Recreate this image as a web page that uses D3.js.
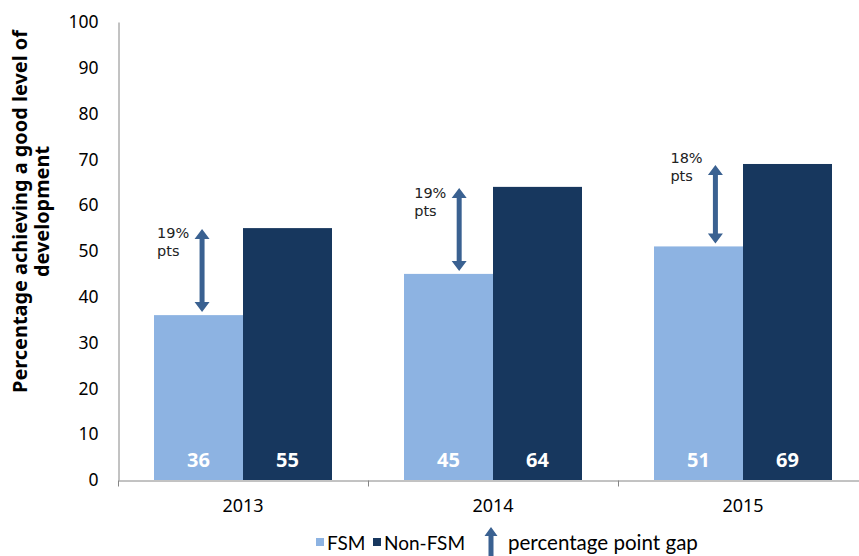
<!DOCTYPE html>
<html>
<head>
<meta charset="utf-8">
<script src="https://cdn.jsdelivr.net/npm/d3@7"></script>
<style>
  body { margin: 0; background: #fff; }
  svg { display: block; font-family: "Noto Sans", "DejaVu Sans", sans-serif; }
</style>
</head>
<body>
<svg width="859" height="556"></svg>
<script>
const years = ['2013', '2014', '2015']
const seriesNames = ['FSM', 'Non-FSM']
const fsmValues = [36, 45, 51]
const nonFsmValues = [55, 64, 69]
const gapLabels = ['19%', '19%', '18%']
const gapArrowShift = [0.54, 0.62, 0.69]   // where the arrow sits across the FSM bar
const gapLabelLevel = [52.8, 61.5, 69.3]   // value at which the "xx%" baseline sits
const yTicks = [0, 10, 20, 30, 40, 50, 60, 70, 80, 90, 100]

const colours = { 'FSM': '#8db3e2', 'Non-FSM': '#17375e' }
const arrowColour = '#3a6191'
const axisColour = '#868686'

const svg = d3.select('svg')

// shrink / grow a text node until it is the wanted width
function fitText(sel, width) {
  const node = sel.node()
  const size = parseFloat(sel.attr('font-size'))
  const w = node.getComputedTextLength()
  if (w > 0) sel.attr('font-size', (size * width / w).toFixed(2))
}

/* SCALES */
const xScale = d3.scaleBand()
  .domain(years)
  .range([118, 868])

const innerScale = d3.scaleBand()
  .domain(seriesNames)
  .range([36, 214])

const yScale = d3.scaleLinear()
  .domain([0, 100])
  .range([480, 22])

/* Y AXIS */
const yAxis = d3.axisLeft(yScale)
  .tickValues(yTicks)
  .tickSize(0)
  .tickPadding(20)

const gy = svg.append('g')
  .attr('transform', 'translate(118.5, 0)')
  .call(yAxis)
gy.select('.domain').attr('stroke', axisColour)
gy.selectAll('text')
  .attr('font-size', 17.5)
  .attr('fill', '#000')
  .attr('font-family', '"Noto Sans", sans-serif')

/* BARS */
const rows = years.map((y, i) => ({ year: y, i, FSM: fsmValues[i], 'Non-FSM': nonFsmValues[i] }))

const groups = svg.selectAll('.year')
  .data(rows)
  .enter().append('g')
  .attr('class', 'year')
  .attr('transform', d => `translate(${xScale(d.year)}, 0)`)

groups.selectAll('rect')
  .data(d => seriesNames.map(s => ({ key: s, value: d[s] })))
  .enter().append('rect')
  .attr('x', d => innerScale(d.key))
  .attr('width', innerScale.bandwidth())
  .attr('y', d => yScale(d.value))
  .attr('height', d => yScale(0) - yScale(d.value))
  .attr('fill', d => colours[d.key])

groups.selectAll('.val')
  .data(d => seriesNames.map(s => ({ key: s, value: d[s] })))
  .enter().append('text')
  .attr('class', 'val')
  .attr('x', d => innerScale(d.key) + innerScale.bandwidth() / 2)
  .attr('y', yScale(0) - 13.5)
  .attr('text-anchor', 'middle')
  .attr('font-size', 20)
  .attr('font-weight', 'bold')
  .attr('fill', '#fff')
  .text(d => d.value)

/* X AXIS */
const xAxis = d3.axisBottom(xScale).tickSize(0)
const gx = svg.append('g')
  .attr('transform', 'translate(0, 480.5)')
  .call(xAxis)
gx.select('.domain').attr('stroke', axisColour)
gx.selectAll('text')
  .attr('y', 31)
  .attr('dy', null)
  .attr('font-size', 18)
  .attr('fill', '#000')
  .attr('font-family', '"Noto Sans", sans-serif')

gx.selectAll('.sep')
  .data(years)
  .enter().append('line')
  .attr('class', 'sep')
  .attr('x1', d => Math.round(xScale(d)) + 0.5)
  .attr('x2', d => Math.round(xScale(d)) + 0.5)
  .attr('y1', 0)
  .attr('y2', 6)
  .attr('stroke', axisColour)

/* DOUBLE ARROW */
function doubleArrow(x, yTop, yBot, shaft, head, headLen) {
  const s = shaft / 2, h = head / 2
  return `M${x},${yTop} L${x + h},${yTop + headLen} L${x + s},${yTop + headLen}
    L${x + s},${yBot - headLen} L${x + h},${yBot - headLen} L${x},${yBot}
    L${x - h},${yBot - headLen} L${x - s},${yBot - headLen} L${x - s},${yTop + headLen}
    L${x - h},${yTop + headLen} Z`
}

groups.each(function(d) {
  const g = d3.select(this)
  const ax = innerScale('FSM') + innerScale.bandwidth() * gapArrowShift[d.i]
  g.append('path')
    .attr('d', doubleArrow(ax, yScale(d['Non-FSM']) + 1, yScale(d.FSM) - 3, 5, 15, 10))
    .attr('fill', arrowColour)
  const base = yScale(gapLabelLevel[d.i])
  g.append('text')
    .attr('x', ax - 45)
    .attr('y', base)
    .attr('font-size', 14.5)
    .attr('font-family', '"DejaVu Sans", sans-serif')
    .attr('fill', '#222')
    .text(gapLabels[d.i])
  g.append('text')
    .attr('x', ax - 45)
    .attr('y', base + 18)
    .attr('font-size', 14.5)
    .attr('font-family', '"DejaVu Sans", sans-serif')
    .attr('fill', '#222')
    .text('pts')
})

/* Y TITLE */
const titleSize = 20
const title1 = svg.append('text')
  .attr('transform', 'translate(27, 211.5) rotate(-90)')
  .attr('text-anchor', 'middle')
  .attr('font-size', titleSize)
  .attr('font-weight', 'bold')
  .attr('fill', '#000')
  .text('Percentage achieving a good level of')
fitText(title1, 363)
svg.append('text')
  .attr('transform', 'translate(49, 211.5) rotate(-90)')
  .attr('text-anchor', 'middle')
  .attr('font-size', title1.attr('font-size'))
  .attr('font-weight', 'bold')
  .attr('fill', '#000')
  .text('development')

/* LEGEND */
const legendFont = 'Lato, "Noto Sans", sans-serif'
const legend = svg.append('g').attr('transform', 'translate(0, 550)')

const gapText = legend.append('text')
  .attr('x', 508)
  .attr('font-size', 21)
  .attr('font-family', legendFont)
  .attr('fill', '#000')
  .text('percentage point gap')
fitText(gapText, 190)

const legendKeys = [
  { label: 'FSM', kind: 'FSM', x: 316 },
  { label: 'Non-FSM', kind: 'Non-FSM', x: 373 }
]
legendKeys.forEach(item => {
  legend.append('rect')
    .attr('x', item.x).attr('y', -12)
    .attr('width', 8).attr('height', 8)
    .attr('fill', colours[item.kind])
  legend.append('text')
    .attr('x', item.x + 11)
    .attr('font-size', 19)
    .attr('font-family', legendFont)
    .attr('fill', '#000')
    .text(item.label)
})

legend.append('path')
  .attr('d', 'M491,-23 L497.5,-14 L493.5,-14 L493.5,8 L488.5,8 L488.5,-14 L484.5,-14 Z')
  .attr('fill', arrowColour)
</script>
</body>
</html>
